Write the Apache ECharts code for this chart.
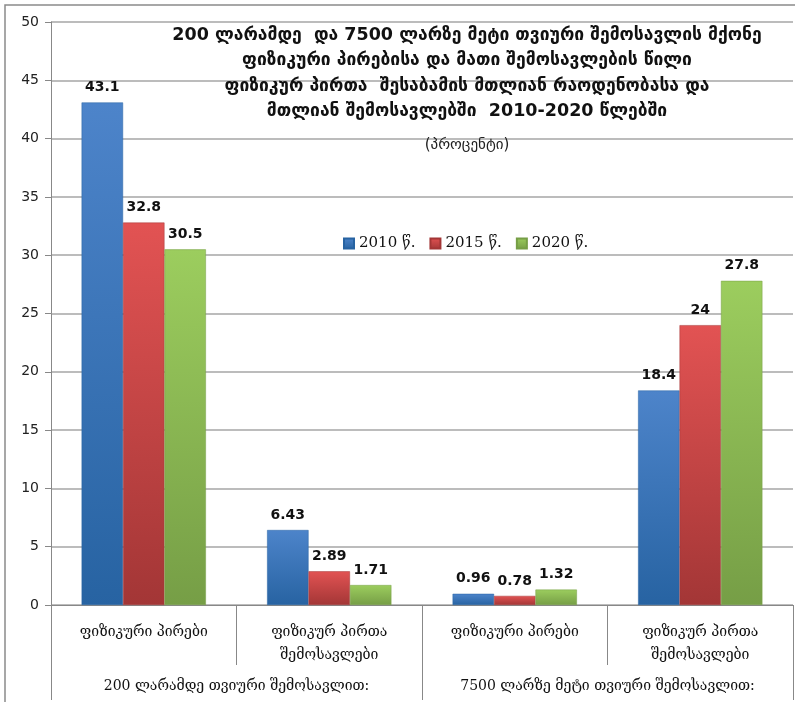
<!DOCTYPE html>
<html><head><meta charset="utf-8">
<script src="https://cdn.jsdelivr.net/npm/echarts@6/dist/echarts.min.js"></script>
<style>html,body{margin:0;padding:0;background:#fff}#c{width:795px;height:702px}</style>
</head><body><div id="c"></div>
<script>
const categories = ["ფიზიკური პირები", "ფიზიკურ პირთა\nშემოსავლები", "ფიზიკური პირები", "ფიზიკურ პირთა\nშემოსავლები"];
const groups = ["200 ლარამდე თვიური შემოსავლით:", "7500 ლარზე მეტი თვიური შემოსავლით:"];
const seriesNames = ["2010 წ.", "2015 წ.", "2020 წ."];
const v2010 = [43.1, 6.43, 0.96, 18.4];
const v2015 = [32.8, 2.89, 0.78, 24];
const v2020 = [30.5, 1.71, 1.32, 27.8];
const yTicks = [0, 50, 5];
const titleText = "200 ლარამდე  და 7500 ლარზე მეტი თვიური შემოსავლის მქონე\nფიზიკური პირებისა და მათი შემოსავლების წილი\nფიზიკურ პირთა  შესაბამის მთლიან რაოდენობასა და\nმთლიან შემოსავლებში  2010-2020 წლებში";
const subText = "(პროცენტი)";

const grads = [["#4d84ca", "#2763a2"], ["#e25353", "#a33636"], ["#9ccd5e", "#769e46"]];
function grad(c){return new echarts.graphic.LinearGradient(0,0,0,1,[{offset:0,color:c[0]},{offset:1,color:c[1]}]);}
const vals = [v2010, v2015, v2020];
const chart = echarts.init(document.getElementById('c'));
chart.setOption({
  animation:false,
  title:[
    {text:titleText,left:462,top:18,textAlign:'center',textStyle:{fontFamily:'DejaVu Sans',fontSize:17.5,fontWeight:'bold',color:'#111',lineHeight:25.3}},
    {text:subText,left:462,top:133,textAlign:'center',textStyle:{fontFamily:'DejaVu Sans',fontSize:15,fontWeight:'normal',color:'#222'}}
  ],
  legend:{left:338,top:231,itemWidth:10,itemHeight:10,itemGap:14,itemStyle:{},icon:'rect',
    textStyle:{fontFamily:'DejaVu Serif',fontSize:15,color:'#111'},data:seriesNames},
  graphic:[{type:'rect',shape:{x:5,y:5,width:820,height:820},style:{fill:'none',stroke:'#8a8a8a',lineWidth:1.5},silent:true,z:-10}],
  grid:{left:51,right:2,top:22,bottom:97},
  xAxis:[
    {type:'category',data:categories,position:'bottom',
     axisLine:{lineStyle:{color:'#888'}},
     axisTick:{show:true,length:60,interval:0,lineStyle:{color:'#888'}},
     axisLabel:{interval:0,margin:16,fontFamily:'DejaVu Serif',fontSize:14,color:'#111',lineHeight:23}},
    {type:'category',data:groups,position:'bottom',
     axisLine:{show:false},
     axisTick:{show:true,length:95,interval:0,lineStyle:{color:'#888'}},
     axisLabel:{interval:0,margin:74,fontFamily:'DejaVu Serif',fontSize:14,color:'#111'}}
  ],
  yAxis:{type:'value',min:yTicks[0],max:yTicks[1],interval:yTicks[2],
    axisLine:{show:true,lineStyle:{color:'#888'}},
    axisTick:{show:true,length:6,lineStyle:{color:'#888'}},
    axisLabel:{fontFamily:'DejaVu Sans',fontSize:14,color:'#222',margin:12},
    splitLine:{lineStyle:{color:'#a6a6a6',width:1.5}}},
  series:seriesNames.map((n,i)=>({
    name:n,type:'bar',xAxisIndex:0,data:vals[i],
    barGap:'0%',barCategoryGap:'33%',
    itemStyle:{color:grad(grads[i]),borderColor:grads[i][1],borderWidth:0.5},
    label:{show:true,position:'top',distance:8,fontFamily:'DejaVu Sans',fontSize:14,fontWeight:'bold',color:'#111'}
  }))
});
</script></body></html>
